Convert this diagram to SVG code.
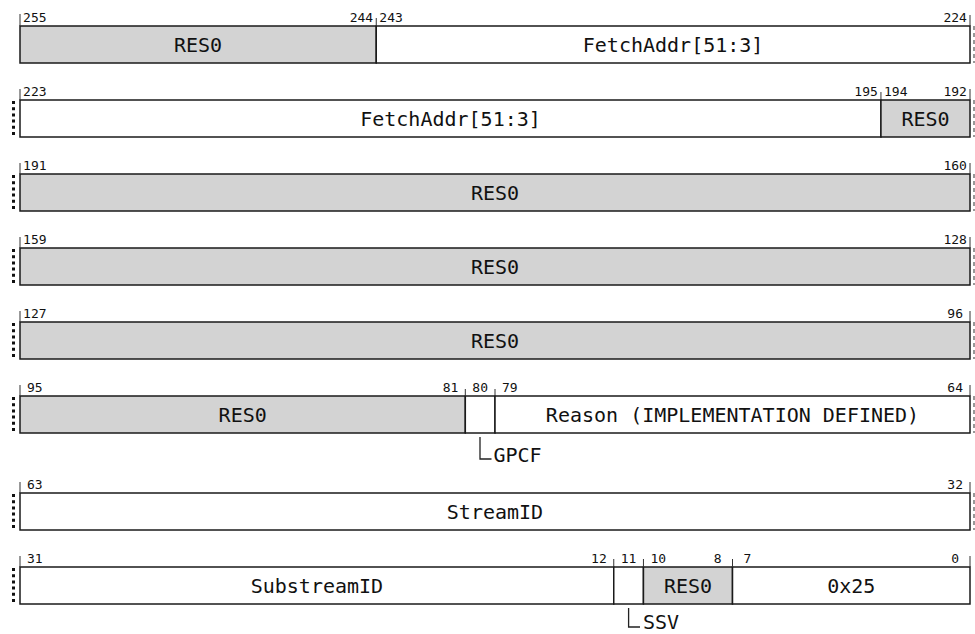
<svg xmlns="http://www.w3.org/2000/svg" width="975" height="634" viewBox="0 0 975 634">
<style>
.bg{fill:#fff}
.f{fill:#fff;stroke:#1a1a1a;stroke-width:1.5}
.r{fill:#d3d3d3;stroke:#1a1a1a;stroke-width:1.5}
.t{font-family:"DejaVu Sans Mono","Liberation Mono",monospace;font-size:20px;fill:#111;text-anchor:middle}
.n{font-family:"DejaVu Sans Mono","Liberation Mono",monospace;font-size:13px;fill:#111;text-anchor:middle}
.tk{stroke:#333;stroke-width:1;fill:none}
.dl{stroke:#111;stroke-width:3;stroke-dasharray:3 3.2;fill:none}
.dr{stroke:#555;stroke-width:1.2;stroke-dasharray:4 3;fill:none}
.c{stroke:#222;stroke-width:1.3;fill:none}
.lb{font-family:"DejaVu Sans Mono","Liberation Mono",monospace;font-size:20px;fill:#111}
</style>
<rect class="bg" x="0" y="0" width="975" height="634"/>

<g id="row1">
<rect class="r" x="20" y="26" width="356.25" height="37"/>
<rect class="f" x="376.25" y="26" width="593.75" height="37"/>
<text class="t" x="198.1" y="52">RES0</text>
<text class="t" x="673.1" y="52">FetchAddr[51:3]</text>
<path class="tk" d="M20,14V26M376.25,18V26M970,15V26"/>
<text class="n" x="34.84" y="22">255</text>
<text class="n" x="361.41" y="22">244</text>
<text class="n" x="391.09" y="22">243</text>
<text class="n" x="955.16" y="22">224</text>
<line class="dr" x1="974" y1="26" x2="974" y2="63"/>
</g>

<g id="row2">
<rect class="f" x="20" y="100" width="860.94" height="37"/>
<rect class="r" x="880.94" y="100" width="89.06" height="37"/>
<text class="t" x="450.5" y="126">FetchAddr[51:3]</text>
<text class="t" x="925.5" y="126">RES0</text>
<path class="tk" d="M20,89V100M880.94,92V100M970,89V100"/>
<text class="n" x="34.84" y="96">223</text>
<text class="n" x="866.1" y="96">195</text>
<text class="n" x="895.78" y="96">194</text>
<text class="n" x="955.16" y="96">192</text>
<line class="dl" x1="13.5" y1="101" x2="13.5" y2="137"/>
<line class="dr" x1="974" y1="100" x2="974" y2="137"/>
</g>

<g id="row3">
<rect class="r" x="20" y="174" width="950" height="37"/>
<text class="t" x="495" y="200">RES0</text>
<path class="tk" d="M20,163V174M970,163V174"/>
<text class="n" x="34.84" y="170">191</text>
<text class="n" x="955.16" y="170">160</text>
<line class="dl" x1="13.5" y1="175" x2="13.5" y2="211"/>
<line class="dr" x1="974" y1="174" x2="974" y2="211"/>
</g>

<g id="row4">
<rect class="r" x="20" y="248" width="950" height="37"/>
<text class="t" x="495" y="274">RES0</text>
<path class="tk" d="M20,237V248M970,237V248"/>
<text class="n" x="34.84" y="244">159</text>
<text class="n" x="955.16" y="244">128</text>
<line class="dl" x1="13.5" y1="249" x2="13.5" y2="285"/>
<line class="dr" x1="974" y1="248" x2="974" y2="285"/>
</g>

<g id="row5">
<rect class="r" x="20" y="322" width="950" height="37"/>
<text class="t" x="495" y="348">RES0</text>
<path class="tk" d="M20,311V322M970,311V322"/>
<text class="n" x="34.84" y="318">127</text>
<text class="n" x="955.16" y="318">96</text>
<line class="dl" x1="13.5" y1="323" x2="13.5" y2="359"/>
<line class="dr" x1="974" y1="322" x2="974" y2="359"/>
</g>

<g id="row6">
<rect class="r" x="20" y="396" width="445.31" height="37"/>
<rect class="f" x="465.31" y="396" width="29.69" height="37"/>
<rect class="f" x="495" y="396" width="475" height="37"/>
<text class="t" x="242.7" y="422">RES0</text>
<text class="t" x="732.5" y="422">Reason (IMPLEMENTATION DEFINED)</text>
<path class="tk" d="M20,385V396M465.31,389V396M495,389V396M970,385V396"/>
<text class="n" x="34.84" y="392">95</text>
<text class="n" x="450.47" y="392">81</text>
<text class="n" x="480.16" y="392">80</text>
<text class="n" x="509.84" y="392">79</text>
<text class="n" x="955.16" y="392">64</text>
<line class="dl" x1="13.5" y1="397" x2="13.5" y2="433"/>
<line class="dr" x1="974" y1="396" x2="974" y2="433"/>
</g>

<g id="gpcf">
<text class="lb" x="493.5" y="461.5">GPCF</text>
</g>

<g id="row7">
<rect class="f" x="20" y="493" width="950" height="37"/>
<text class="t" x="495" y="519">StreamID</text>
<path class="tk" d="M20,482V493M970,482V493"/>
<text class="n" x="34.84" y="489">63</text>
<text class="n" x="955.16" y="489">32</text>
<line class="dl" x1="13.5" y1="494" x2="13.5" y2="530"/>
<line class="dr" x1="974" y1="493" x2="974" y2="530"/>
</g>

<g id="row8">
<rect class="f" x="20" y="567" width="593.75" height="37"/>
<rect class="f" x="613.75" y="567" width="29.69" height="37"/>
<rect class="r" x="643.44" y="567" width="89.06" height="37"/>
<rect class="f" x="732.5" y="567" width="237.5" height="37"/>
<text class="t" x="316.9" y="593">SubstreamID</text>
<text class="t" x="688" y="593">RES0</text>
<text class="t" x="851.25" y="593">0x25</text>
<path class="tk" d="M20,556V567M613.75,559V567M643.44,559V567M732.5,559V567M970,556V567"/>
<text class="n" x="34.84" y="563">31</text>
<text class="n" x="598.91" y="563">12</text>
<text class="n" x="628.59" y="563">11</text>
<text class="n" x="658.28" y="563">10</text>
<text class="n" x="717.66" y="563">8</text>
<text class="n" x="747.34" y="563">7</text>
<text class="n" x="955.16" y="563">0</text>
<line class="dl" x1="13.5" y1="568" x2="13.5" y2="604"/>
</g>

<g id="ssv">
<text class="lb" x="643" y="629">SSV</text>
</g>

<g id="connectors">
<path class="c" d="M480,437V459H491.5"/>
<path class="c" d="M628.6,608V627H640"/>
</g>
</svg>
